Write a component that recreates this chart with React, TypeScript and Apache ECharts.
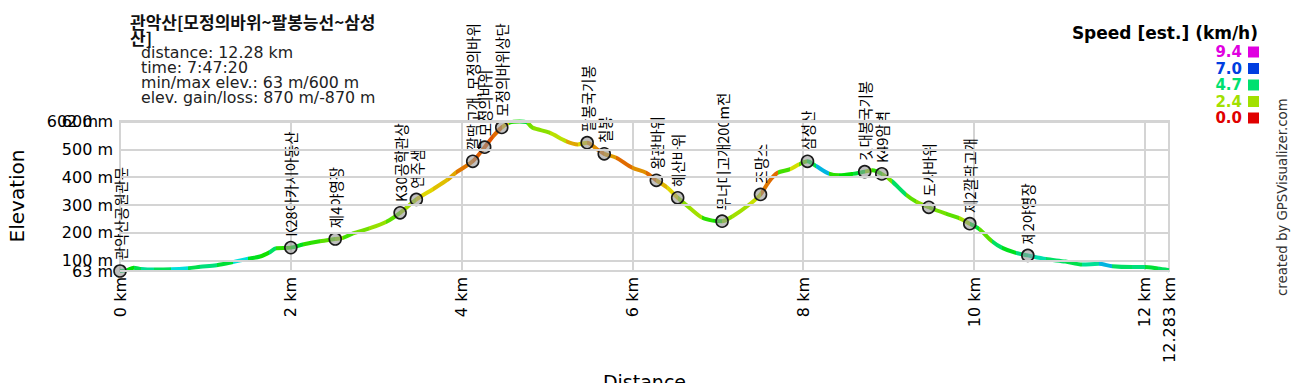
import React, { useEffect, useRef } from "react";
import * as echarts from "echarts";

// ---- data ----
const profDist = [0.0, 0.08, 0.16, 0.25, 0.4, 0.6, 0.8, 0.94, 1.13, 1.32, 1.5, 1.64, 1.75, 1.83, 2.0, 2.14, 2.34, 2.52, 2.61, 2.73, 2.92, 3.12, 3.28, 3.47, 3.66, 3.84, 3.94, 4.13, 4.27, 4.37, 4.47, 4.56, 4.68, 4.76, 4.83, 5.03, 5.22, 5.36, 5.47, 5.58, 5.67, 5.81, 6.0, 6.16, 6.28, 6.41, 6.53, 6.67, 6.82, 6.94, 7.05, 7.17, 7.37, 7.5, 7.6, 7.7, 7.84, 7.95, 8.05, 8.15, 8.3, 8.42, 8.58, 8.72, 8.81, 8.92, 9.04, 9.2, 9.32, 9.47, 9.67, 9.82, 9.95, 10.06, 10.21, 10.33, 10.49, 10.63, 10.84, 11.07, 11.27, 11.46, 11.62, 11.85, 12.0, 12.15, 12.283];
const profElev = [63, 66, 75, 70, 68, 69, 73, 78, 84, 95, 107, 115, 130, 145, 147, 158, 170, 178, 182, 198, 216, 240, 272, 320, 356, 392, 418, 457, 508, 547, 579, 596, 600, 598, 578, 560, 530, 518, 524, 502, 484, 470, 434, 416, 389, 362, 326, 290, 254, 244, 242, 259, 302, 338, 385, 416, 428, 446, 457, 440, 413, 407, 412, 420, 425, 412, 385, 338, 313, 292, 269, 254, 233, 214, 170, 146, 128, 119, 106, 97, 86, 89, 80, 77, 77, 72, 66];
const profSpeed = [4.6, 3.8, 4.4, 5.0, 4.5, 5.6, 4.4, 4.8, 4.2, 5.6, 4.0, 3.6, 4.6, 3.4, 4.0, 3.4, 3.0, 2.6, 3.2, 2.8, 2.5, 3.0, 2.4, 1.8, 1.6, 1.4, 1.0, 0.8, 0.7, 0.9, 1.6, 3.5, 4.2, 2.8, 2.6, 2.2, 1.4, 1.8, 1.2, 1.0, 1.3, 0.9, 1.2, 0.9, 1.5, 1.8, 2.6, 2.4, 3.4, 3.6, 2.6, 2.4, 2.1, 1.0, 0.9, 3.2, 2.0, 3.0, 4.4, 6.0, 3.4, 3.8, 4.2, 2.6, 3.4, 2.8, 4.6, 3.0, 2.6, 2.8, 3.0, 2.4, 4.2, 3.0, 4.6, 4.0, 4.8, 5.2, 4.6, 4.4, 5.0, 6.0, 4.6, 4.8, 4.2, 4.5, 4.5];

const wpDist = [0.0, 2.0, 2.52, 3.28, 3.47, 4.13, 4.27, 4.47, 5.47, 5.67, 6.28, 6.53, 7.05, 7.5, 8.05, 8.72, 8.92, 9.47, 9.95, 10.63];
const wpElev = [63, 147, 178, 272, 320, 457, 508, 579, 524, 484, 389, 326, 242, 338, 457, 420, 412, 292, 233, 119];
const wpName = ["관악산공원관문", "K28아카시아동산", "제4야영장", "K30공학관상", "연주샘", "깔딱고개, 모정의바위", "모정의바위", "모정의바위상단", "팔봉국기봉", "칠봉", "왕관바위", "해산바위", "무너미고개200m전", "조망소", "삼성산", "깃대봉국기봉", "K49암벽", "도사바위", "제2깔딱고개", "제2야영장"];

const yGridValues = [63, 100, 200, 300, 400, 500, 600, 602];
const legendSpeeds = [9.4, 7.0, 4.7, 2.4, 0.0];
const maxSpeed = 9.4;
const distMin = 0;
const distMax = 12.283;
const elevMin = 63;
const elevMax = 602;
const titleLines = ["관악산[모정의바위~팔봉능선~삼성", "산]"];
const infoLines = ["distance: 12.28 km", "time: 7:47:20", "min/max elev.: 63 m/600 m", "elev. gain/loss: 870 m/-870 m"];
const legendTitle = "Speed [est.] (km/h)";
const creditText = "created by GPSVisualizer.com";

function speedColor(s: number): string {
  const h = (Math.max(0, Math.min(maxSpeed, s)) / maxSpeed) * 300;
  const l = 0.44, sat = 1;
  const c = (1 - Math.abs(2 * l - 1)) * sat;
  const hp = h / 60;
  const x = c * (1 - Math.abs((hp % 2) - 1));
  let r = 0, g = 0, b = 0;
  if (hp < 1) { r = c; g = x; }
  else if (hp < 2) { r = x; g = c; }
  else if (hp < 3) { g = c; b = x; }
  else if (hp < 4) { g = x; b = c; }
  else if (hp < 5) { r = x; b = c; }
  else { r = c; b = x; }
  const m = l - c / 2;
  const toHex = (v: number) => Math.round((v + m) * 255).toString(16).padStart(2, "0");
  return "#" + toHex(r) + toHex(g) + toHex(b);
}

const SANS = '"DejaVu Sans", Verdana, sans-serif';
const KR = '"Noto Sans CJK KR", sans-serif';

export default function App() {
  const ref = useRef<HTMLDivElement>(null);
  useEffect(() => {
    if (!ref.current) return;
    const chart = echarts.init(ref.current, undefined, { renderer: "svg" });

    const pieces = profDist.slice(0, -1).map((d, i) => ({
      gte: d,
      lt: profDist[i + 1],
      color: speedColor(profSpeed[i]),
    }));
    pieces.push({ gte: profDist[profDist.length - 1], lt: distMax + 1, color: speedColor(profSpeed[profSpeed.length - 1]) });

    const graphics: any[] = [];
    titleLines.forEach((t, i) => {
      graphics.push({
        type: "text", x: 130, y: 21 + i * 16.5,
        style: { text: t, font: `bold 17px ${KR}`, fill: "#111", align: "left", verticalAlign: "middle" },
      });
    });
    infoLines.forEach((t, i) => {
      graphics.push({
        type: "text", x: 141, y: 52 + i * 15.3,
        style: { text: t, font: `15.8px ${SANS}`, fill: "#222", align: "left", verticalAlign: "middle" },
      });
    });
    graphics.push({
      type: "text", x: 1258, y: 33,
      style: { text: legendTitle, font: `bold 17px ${SANS}`, fill: "#000", align: "right", verticalAlign: "middle" },
    });
    legendSpeeds.forEach((s, i) => {
      const cy = 52 + i * 16.5;
      graphics.push({
        type: "text", x: 1242, y: cy,
        style: { text: s.toFixed(1), font: `bold 15px ${SANS}`, fill: speedColor(s), align: "right", verticalAlign: "middle" },
      });
      graphics.push({
        type: "rect", shape: { x: 1248, y: cy - 5.5, width: 11, height: 11 },
        style: { fill: speedColor(s) },
      });
    });
    graphics.push({
      type: "text", x: 1282, y: 296, rotation: Math.PI / 2,
      style: { text: creditText, font: `13.3px ${SANS}`, fill: "#333", align: "left", verticalAlign: "middle" },
    });

    chart.setOption({
      animation: false,
      backgroundColor: "#fff",
      grid: {
        left: 120, right: 122, top: 121, bottom: 112,
        outerBoundsMode: "none", containLabel: false,
        show: true, borderColor: "#d4d4d4", borderWidth: 2, backgroundColor: "transparent",
      },
      xAxis: {
        type: "value", min: distMin, max: distMax, interval: 2,
        name: "Distance", nameLocation: "middle", nameGap: 101,
        nameTextStyle: { fontSize: 19, fontFamily: SANS, color: "#000" },
        axisLine: { show: false }, axisTick: { show: false },
        splitLine: { show: true, lineStyle: { color: "#d4d4d4", width: 2 } },
        axisLabel: {
          rotate: 90, margin: 6, fontSize: 16, fontFamily: SANS, color: "#000",
          formatter: (v: number) => `${Math.round(v * 1000) / 1000} km`,
        },
      },
      yAxis: {
        type: "value", min: elevMin, max: elevMax,
        name: "Elevation", nameLocation: "middle", nameGap: 93, nameRotate: 90,
        nameTextStyle: { fontSize: 20, fontFamily: SANS, color: "#000" },
        axisLine: { show: false }, axisTick: { show: false },
        splitLine: { show: false }, axisLabel: { show: false },
      },
      visualMap: {
        type: "piecewise", show: false, dimension: 0, seriesIndex: 0, pieces,
      },
      graphic: graphics,
      series: [
        {
          type: "line", z: 3,
          data: profDist.map((d, i) => [d, profElev[i]]),
          showSymbol: false, smooth: 0.3,
          lineStyle: { width: 4 },
          silent: true,
        },
        {
          type: "line", z: 1, data: [],
          markLine: {
            silent: true, symbol: ["none", "none"], animation: false,
            lineStyle: { color: "#d4d4d4", width: 2, type: "solid" },
            label: {
              show: true, position: "start", distance: 7, fontSize: 16, fontFamily: SANS, color: "#000",
              formatter: (p: any) => `${p.value} m`,
            },
            data: yGridValues.map((v) => v === 602
              ? { yAxis: v, label: { distance: 22 } }
              : { yAxis: v }),
          },
        },
        {
          type: "scatter", z: 4,
          data: wpDist.map((d, i) => [d, wpElev[i], wpName[i]]),
          symbol: "circle", symbolSize: 12,
          itemStyle: { color: "rgba(150,150,150,0.6)", borderColor: "#1a1a1a", borderWidth: 1.6, opacity: 1 },
          label: {
            show: true, position: "top", distance: 4, rotate: 90, align: "left", verticalAlign: "middle",
            fontSize: 14.5, fontFamily: KR, color: "#000",
            formatter: (p: any) => p.data[2],
          },
        },
      ],
    });
    return () => chart.dispose();
  }, []);
  return (
    <div
      ref={ref}
      style={{ position: "absolute", left: 0, top: 0, width: 1291, height: 383, background: "#fff" }}
    />
  );
}
